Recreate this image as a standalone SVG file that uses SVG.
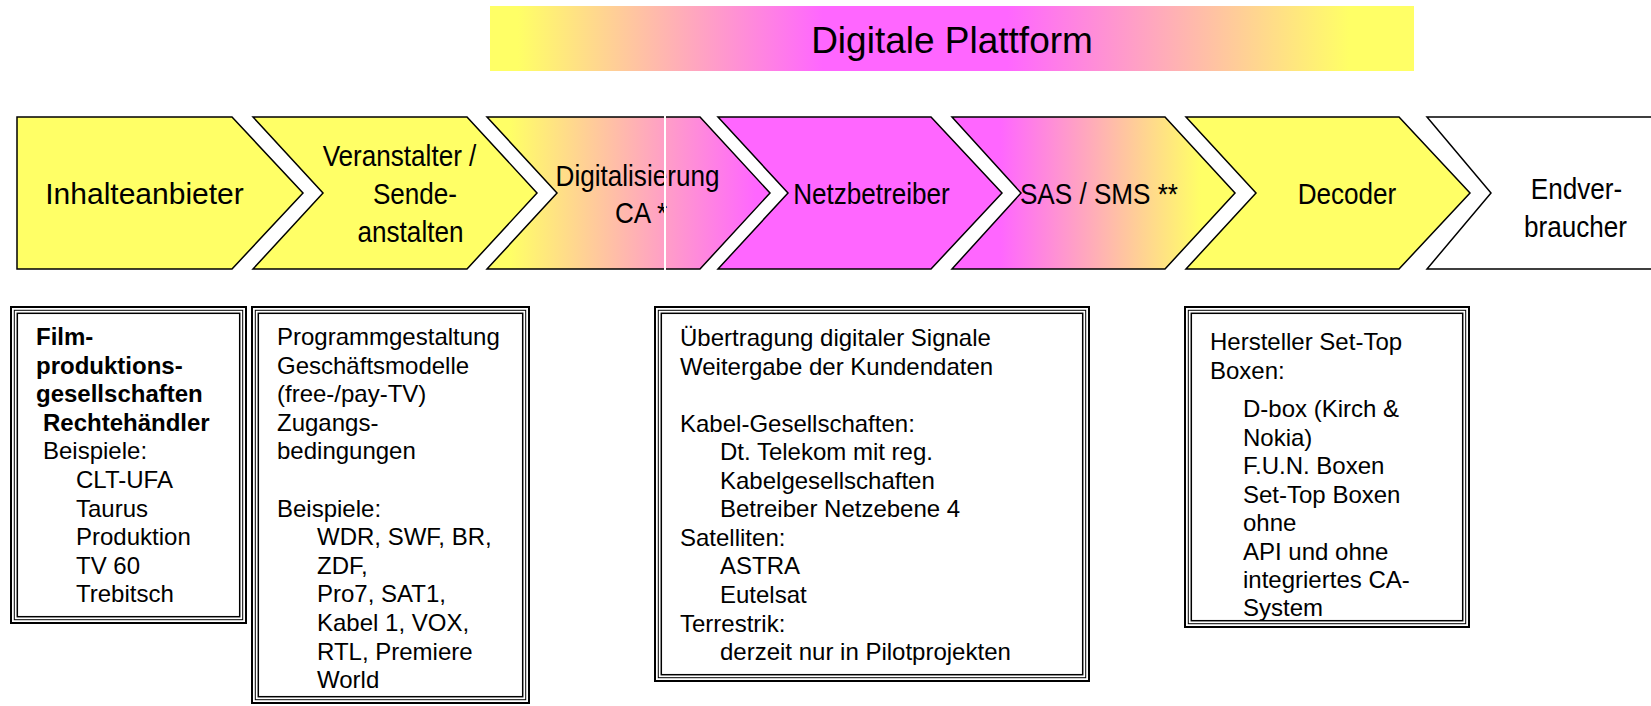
<svg xmlns="http://www.w3.org/2000/svg" width="1651" height="706" viewBox="0 0 1651 706">
<defs>
<style>
.chev{stroke:#000;stroke-width:1.5;stroke-linejoin:miter}
.lbl{font-family:"Liberation Sans",Arial,sans-serif;font-size:30px;fill:#000;text-anchor:middle}
.bx{font-family:"Liberation Sans",Arial,sans-serif;font-size:24px;fill:#000}
.b{font-weight:bold}
.frame{fill:none;stroke:#000}
</style>
<linearGradient id="gBanner" x1="0" y1="0" x2="1" y2="0">
<stop offset="0" stop-color="#FFFF66"/>
<stop offset="0.03" stop-color="#FFFF66"/>
<stop offset="0.36" stop-color="#FF66FF"/>
<stop offset="0.56" stop-color="#FF66FF"/>
<stop offset="0.93" stop-color="#FFFF66"/>
<stop offset="1" stop-color="#FFFF66"/>
</linearGradient>
<linearGradient id="gYM" x1="0" y1="0" x2="1" y2="0">
<stop offset="0" stop-color="#FFFF66"/>
<stop offset="0.08" stop-color="#FFFF66"/>
<stop offset="0.95" stop-color="#FF66FF"/>
<stop offset="1" stop-color="#FF66FF"/>
</linearGradient>
<linearGradient id="gMY" x1="0" y1="0" x2="1" y2="0">
<stop offset="0" stop-color="#FF66FF"/>
<stop offset="0.17" stop-color="#FF66FF"/>
<stop offset="0.88" stop-color="#FFFF66"/>
<stop offset="1" stop-color="#FFFF66"/>
</linearGradient>
</defs>
<rect width="1651" height="706" fill="#fff"/>

<g id="banner">
<rect x="490" y="6" width="924" height="65" fill="url(#gBanner)"/>
<text x="952" y="53" font-family="'Liberation Sans',Arial,sans-serif" font-size="37" text-anchor="middle">Digitale Plattform</text>
</g>

<g id="n1">
<path class="chev" fill="#FFFF66" d="M17,117 L232,117 L303,193 L232,269 L17,269 Z"/>
<text class="lbl" x="144.5" y="204" font-size="31">Inhalteanbieter</text>
</g>
<g id="n2">
<path class="chev" fill="#FFFF66" d="M253,117 L467,117 L537,193 L467,269 L253,269 L323,193 Z"/>
<text class="lbl" transform="translate(399.5 0) scale(0.87 1)" x="0" y="166">Veranstalter /</text>
<text class="lbl" transform="translate(415 0) scale(0.87 1)" x="0" y="204">Sende-</text>
<text class="lbl" transform="translate(410.5 0) scale(0.87 1)" x="0" y="242">anstalten</text>
</g>
<g id="n3">
<path class="chev" fill="url(#gYM)" d="M487,117 L700,117 L770,193 L700,269 L487,269 L557,193 Z"/>
<text class="lbl" transform="translate(637.5 0) scale(0.87 1)" x="0" y="186">Digitalisierung</text>
<text class="lbl" transform="translate(641 0) scale(0.87 1)" x="0" y="223">CA *</text>
<line x1="665" y1="115" x2="665" y2="271" stroke="#fff" stroke-width="2"/>
</g>
<g id="n4">
<path class="chev" fill="#FF66FF" d="M718,117 L931,117 L1002,193 L931,269 L718,269 L788,193 Z"/>
<text class="lbl" transform="translate(871.5 0) scale(0.87 1)" x="0" y="204">Netzbetreiber</text>
</g>
<g id="n5">
<path class="chev" fill="url(#gMY)" d="M952,117 L1165,117 L1235,193 L1165,269 L952,269 L1021,193 Z"/>
<text class="lbl" transform="translate(1099 0) scale(0.87 1)" x="0" y="204">SAS / SMS **</text>
</g>
<g id="n6">
<path class="chev" fill="#FFFF66" d="M1186,117 L1399,117 L1470,193 L1399,269 L1186,269 L1256,193 Z"/>
<text class="lbl" transform="translate(1347 0) scale(0.87 1)" x="0" y="204">Decoder</text>
</g>
<g id="n7">
<path class="chev" fill="#FFFFFF" d="M1427,117 L1700,117 L1700,269 L1427,269 L1491,193 Z"/>
<text class="lbl" transform="translate(1576.5 0) scale(0.87 1)" x="0" y="199">Endver-</text>
<text class="lbl" transform="translate(1575.5 0) scale(0.87 1)" x="0" y="237">braucher</text>
</g>

<g id="box1">
<rect class="frame" x="11" y="307" width="235" height="316" stroke-width="2"/>
<rect class="frame" x="14.3" y="310.3" width="228.4" height="309.4" stroke-width="1"/>
<rect class="frame" x="17.3" y="313.3" width="222.4" height="303.4" stroke-width="1.5"/>
<text class="bx b" x="36" y="345">Film-</text>
<text class="bx b" x="36" y="373.6">produktions-</text>
<text class="bx b" x="36" y="402.2">gesellschaften</text>
<text class="bx b" x="43" y="430.8">Rechtehändler</text>
<text class="bx" x="43" y="459.4">Beispiele:</text>
<text class="bx" x="76" y="488">CLT-UFA</text>
<text class="bx" x="76" y="516.6">Taurus</text>
<text class="bx" x="76" y="545.2">Produktion</text>
<text class="bx" x="76" y="573.8">TV 60</text>
<text class="bx" x="76" y="602.4">Trebitsch</text>
</g>

<g id="box2">
<rect class="frame" x="252" y="307" width="277" height="396" stroke-width="2"/>
<rect class="frame" x="255.3" y="310.3" width="270.4" height="389.4" stroke-width="1"/>
<rect class="frame" x="258.3" y="313.3" width="264.4" height="383.4" stroke-width="1.5"/>
<text class="bx" x="277" y="345">Programmgestaltung</text>
<text class="bx" x="277" y="373.6">Geschäftsmodelle</text>
<text class="bx" x="277" y="402.2">(free-/pay-TV)</text>
<text class="bx" x="277" y="430.8">Zugangs-</text>
<text class="bx" x="277" y="459.4">bedingungen</text>
<text class="bx" x="277" y="516.6">Beispiele:</text>
<text class="bx" x="317" y="545.2">WDR, SWF, BR,</text>
<text class="bx" x="317" y="573.8">ZDF,</text>
<text class="bx" x="317" y="602.4">Pro7, SAT1,</text>
<text class="bx" x="317" y="631">Kabel 1, VOX,</text>
<text class="bx" x="317" y="659.6">RTL, Premiere</text>
<text class="bx" x="317" y="688.2">World</text>
</g>

<g id="box3">
<rect class="frame" x="655" y="307" width="434" height="374" stroke-width="2"/>
<rect class="frame" x="658.3" y="310.3" width="427.4" height="367.4" stroke-width="1"/>
<rect class="frame" x="661.3" y="313.3" width="421.4" height="361.4" stroke-width="1.5"/>
<text class="bx" x="680" y="346">Übertragung digitaler Signale</text>
<text class="bx" x="680" y="374.5">Weitergabe der Kundendaten</text>
<text class="bx" x="680" y="431.6">Kabel-Gesellschaften:</text>
<text class="bx" x="720" y="460.2">Dt. Telekom mit reg.</text>
<text class="bx" x="720" y="488.7">Kabelgesellschaften</text>
<text class="bx" x="720" y="517.3">Betreiber Netzebene 4</text>
<text class="bx" x="680" y="545.8">Satelliten:</text>
<text class="bx" x="720" y="574.4">ASTRA</text>
<text class="bx" x="720" y="602.9">Eutelsat</text>
<text class="bx" x="680" y="631.5">Terrestrik:</text>
<text class="bx" x="720" y="660">derzeit nur in Pilotprojekten</text>
</g>

<g id="box4">
<rect class="frame" x="1185" y="307" width="284" height="320" stroke-width="2"/>
<rect class="frame" x="1188.3" y="310.3" width="277.4" height="313.4" stroke-width="1"/>
<rect class="frame" x="1191.3" y="313.3" width="271.4" height="307.4" stroke-width="1.5"/>
<text class="bx" x="1210" y="350">Hersteller Set-Top</text>
<text class="bx" x="1210" y="378.5">Boxen:</text>
<text class="bx" x="1243" y="417">D-box (Kirch &amp;</text>
<text class="bx" x="1243" y="445.5">Nokia)</text>
<text class="bx" x="1243" y="474">F.U.N. Boxen</text>
<text class="bx" x="1243" y="502.5">Set-Top Boxen</text>
<text class="bx" x="1243" y="531">ohne</text>
<text class="bx" x="1243" y="559.5">API und ohne</text>
<text class="bx" x="1243" y="588">integriertes CA-</text>
<text class="bx" x="1243" y="616">System</text>
</g>

<g id="connectors"></g>
</svg>
